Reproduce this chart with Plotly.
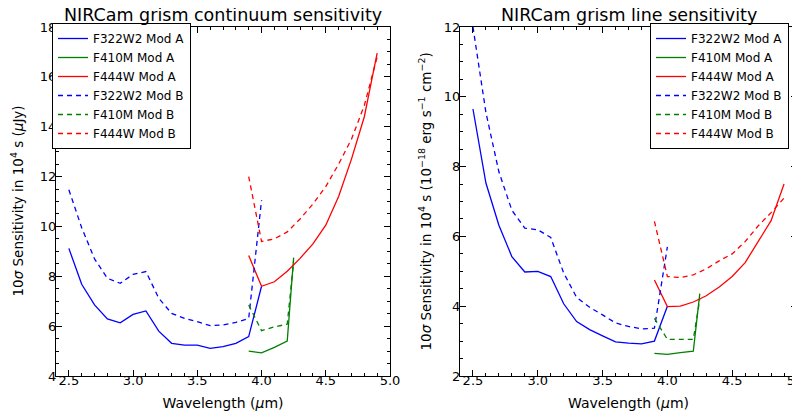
import plotly.graph_objects as go

# ---------------- data ----------------
wl_f322w2 = [2.5, 2.6, 2.7, 2.8, 2.9, 3.0, 3.1, 3.2, 3.3, 3.4, 3.5, 3.6, 3.7, 3.8, 3.9, 4.0]
wl_f410m = [3.9, 4.0, 4.1, 4.2, 4.25]
wl_f444w = [3.9, 4.0, 4.1, 4.2, 4.3, 4.4, 4.5, 4.6, 4.7, 4.8, 4.9]

# continuum sensitivity (uJy)
cont_f322w2_a = [9.12, 7.68, 6.85, 6.29, 6.13, 6.47, 6.61, 5.80, 5.31, 5.24, 5.24, 5.11, 5.18, 5.31, 5.58, 7.60]
cont_f322w2_b = [11.47, 9.95, 8.70, 7.92, 7.72, 8.08, 8.19, 7.12, 6.51, 6.31, 6.18, 6.02, 6.05, 6.15, 6.31, 11.05]
cont_f410m_a = [5.00, 4.93, 5.15, 5.40, 8.75]
cont_f410m_b = [6.85, 5.82, 5.97, 6.08, 8.60]
cont_f444w_a = [8.83, 7.60, 7.78, 8.20, 8.72, 9.30, 10.05, 11.20, 12.70, 14.40, 16.95]
cont_f444w_b = [12.00, 9.40, 9.50, 9.78, 10.30, 10.90, 11.60, 12.50, 13.50, 14.85, 16.80]

# line sensitivity (1e-18 erg/s/cm2)
line_f322w2_a = [9.65, 7.53, 6.32, 5.42, 4.98, 5.00, 4.85, 4.07, 3.56, 3.33, 3.15, 2.98, 2.94, 2.92, 3.00, 4.00]
line_f322w2_b = [12.00, 9.55, 7.85, 6.75, 6.24, 6.19, 5.97, 4.95, 4.25, 3.97, 3.75, 3.52, 3.42, 3.35, 3.37, 5.70]
line_f410m_a = [2.65, 2.62, 2.67, 2.71, 4.36]
line_f410m_b = [3.65, 3.05, 3.05, 3.05, 4.20]
line_f444w_a = [4.75, 3.99, 4.00, 4.12, 4.30, 4.55, 4.85, 5.25, 5.85, 6.45, 7.50]
line_f444w_b = [6.43, 4.85, 4.82, 4.90, 5.07, 5.30, 5.50, 5.85, 6.30, 6.68, 7.10]

series_names = ["F322W2 Mod A", "F410M Mod A", "F444W Mod A",
                "F322W2 Mod B", "F410M Mod B", "F444W Mod B"]

BLUE = "#0000ff"
GREEN = "#008000"
RED = "#ff0000"
FONT = "DejaVu Sans"
DASH = "5px,4px"

fig = go.Figure()

def add_panel(xa, ya, legend, a_sets, b_sets):
    colors = [BLUE, GREEN, RED]
    for (x, y), c, n in zip(a_sets, colors, series_names[:3]):
        fig.add_trace(go.Scatter(x=x, y=y, mode="lines", name=n,
                                 line=dict(color=c, width=1.3),
                                 xaxis=xa, yaxis=ya, legend=legend))
    for (x, y), c, n in zip(b_sets, colors, series_names[3:]):
        fig.add_trace(go.Scatter(x=x, y=y, mode="lines", name=n,
                                 line=dict(color=c, width=1.3, dash=DASH),
                                 xaxis=xa, yaxis=ya, legend=legend))

add_panel("x", "y", "legend",
          [(wl_f322w2, cont_f322w2_a), (wl_f410m, cont_f410m_a), (wl_f444w, cont_f444w_a)],
          [(wl_f322w2, cont_f322w2_b), (wl_f410m, cont_f410m_b), (wl_f444w, cont_f444w_b)])
add_panel("x2", "y2", "legend2",
          [(wl_f322w2, line_f322w2_a), (wl_f410m, line_f410m_a), (wl_f444w, line_f444w_a)],
          [(wl_f322w2, line_f322w2_b), (wl_f410m, line_f410m_b), (wl_f444w, line_f444w_b)])

W, H = 800, 411
ML, MR, MT, MB = 48, 11, 19, 43
pw = W - ML - MR
ph = H - MT - MB
d1 = [0, (382 - ML) / pw]
d2 = [(452 - ML) / pw, 1]

def xax(domain, anchor):
    return dict(domain=domain, anchor=anchor, range=[2.4, 5.0], dtick=0.5, tick0=2.5,
                tickformat=".1f", showgrid=False, zeroline=False,
                showline=True, linecolor="black", linewidth=1, mirror="ticks",
                ticks="inside", ticklen=6, tickcolor="black", ticklabelstandoff=-8,
                minor=dict(ticks="inside", ticklen=3, dtick=0.1, tick0=2.4, tickcolor="black"),
                tickfont=dict(family=FONT, size=13, color="black"),
                title=dict(text="Wavelength (<i>μ</i>m)", font=dict(family=FONT, size=14, color="black"),
                           standoff=11))

def yax(rng, anchor):
    return dict(anchor=anchor, range=rng, dtick=2, showgrid=False, zeroline=False,
                showline=True, linecolor="black", linewidth=1, mirror="ticks",
                ticks="inside", ticklen=6, tickcolor="black", ticklabelstandoff=-4,
                minor=dict(ticks="inside", ticklen=3, dtick=0.5, tickcolor="black"),
                tickfont=dict(family=FONT, size=13, color="black"))

legend_style = dict(bgcolor="white", bordercolor="black", borderwidth=1,
                    font=dict(family=FONT, size=12, color="black"),
                    yanchor="top", tracegroupgap=0)

ytitle_left = "10<i>σ</i> Sensitivity in 10<sup>4</sup> s (<i>μ</i>Jy)"
ytitle_right = "10<i>σ</i> Sensitivity in 10<sup>4</sup> s (10<sup>−18</sup> erg s<sup>−1</sup> cm<sup>−2</sup>)"

fig.update_layout(
    width=W, height=H,
    margin=dict(l=ML, r=MR, t=MT, b=MB, autoexpand=False),
    paper_bgcolor="white", plot_bgcolor="white",
    xaxis=xax(d1, "y"),
    yaxis=yax([4, 18], "x"),
    xaxis2=xax(d2, "y2"),
    yaxis2=yax([2, 12], "x2"),
    legend=dict(x=(44 - ML) / pw, y=1 - (15 - MT) / ph, xanchor="left", **legend_style),
    legend2=dict(x=(781 - ML) / pw, y=1 - (15 - MT) / ph, xanchor="right", **legend_style),
    annotations=[
        dict(text="NIRCam grism continuum sensitivity", xref="paper", yref="paper",
             x=(d1[0] + d1[1]) / 2, y=1 + 12 / ph, xanchor="center", yanchor="middle",
             showarrow=False, font=dict(family=FONT, size=17.5, color="black")),
        dict(text="NIRCam grism line sensitivity", xref="paper", yref="paper",
             x=(d2[0] + d2[1]) / 2, y=1 + 12 / ph, xanchor="center", yanchor="middle",
             showarrow=False, font=dict(family=FONT, size=17.5, color="black")),
        dict(text=ytitle_left, xref="paper", yref="paper", textangle=-90,
             x=(9 - ML) / pw, y=0.5, xanchor="center", yanchor="middle",
             showarrow=False, font=dict(family=FONT, size=13.5, color="black")),
        dict(text=ytitle_right, xref="paper", yref="paper", textangle=-90,
             x=(417 - ML) / pw, y=0.5, xanchor="center", yanchor="middle",
             showarrow=False, font=dict(family=FONT, size=13.5, color="black")),
    ],
)

fig.write_html("out.html")
